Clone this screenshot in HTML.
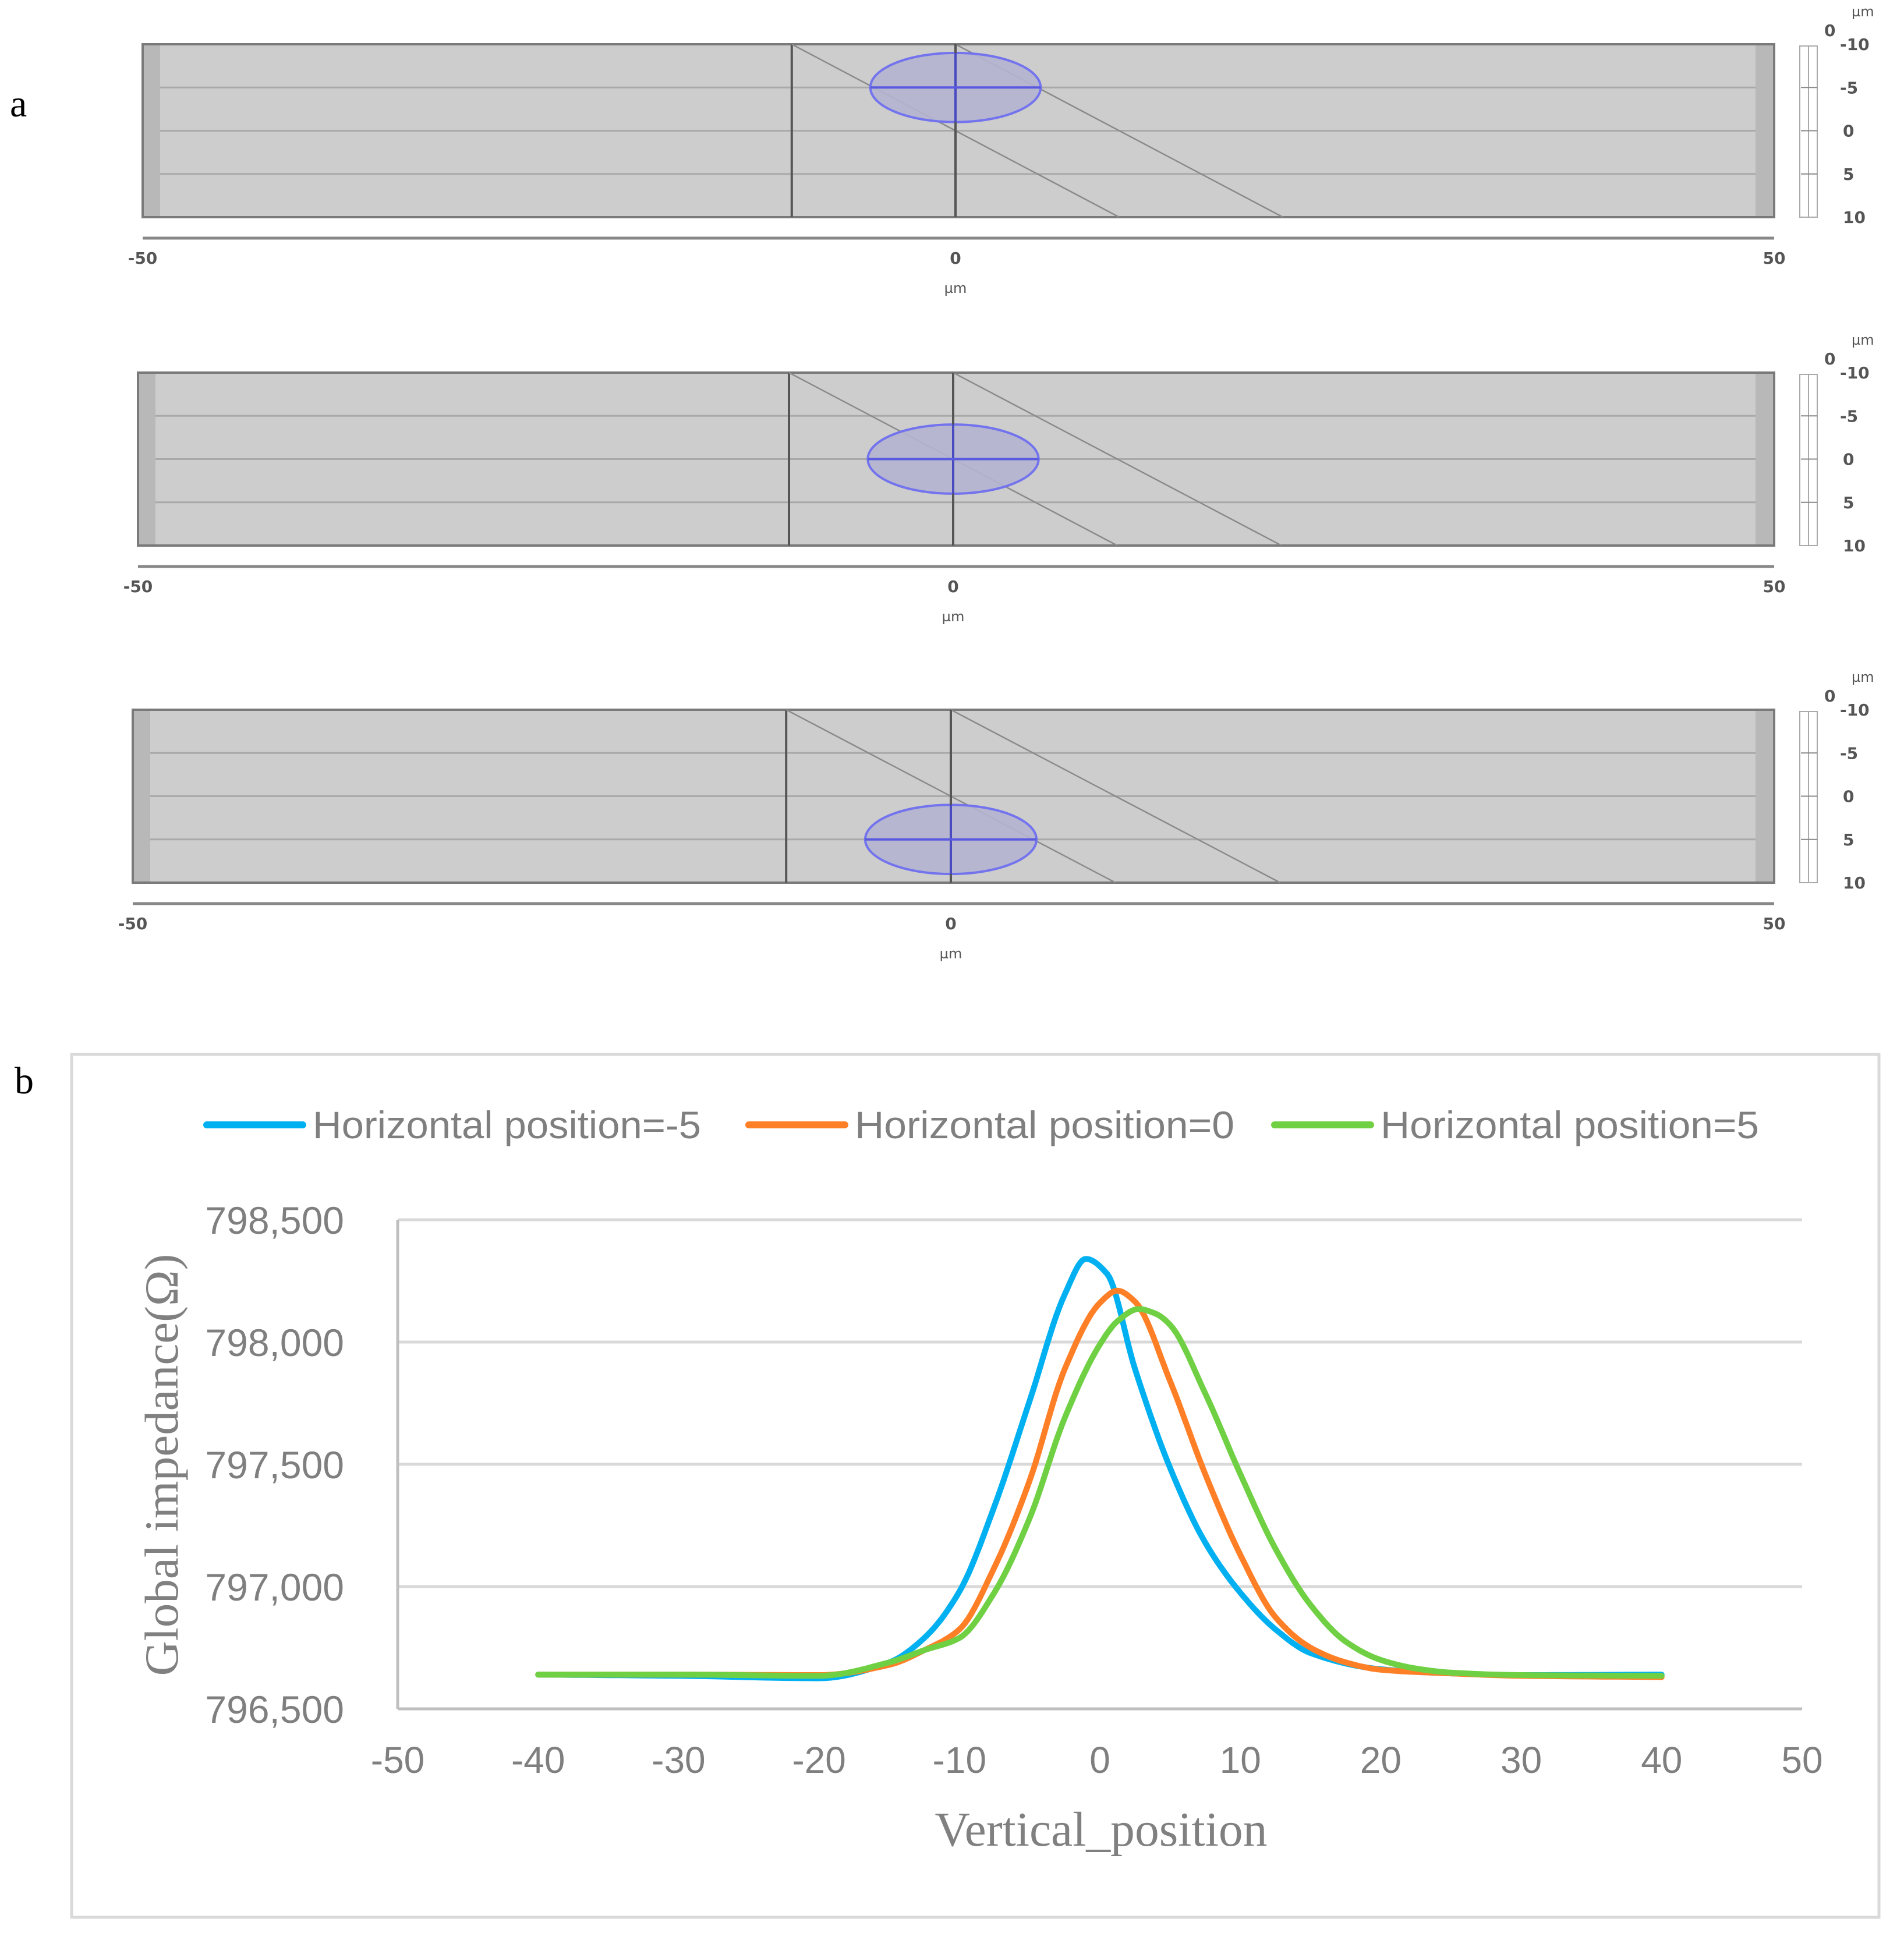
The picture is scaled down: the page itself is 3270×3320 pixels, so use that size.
<!DOCTYPE html>
<html><head><meta charset="utf-8"><style>
html,body{margin:0;padding:0;background:#fff;}
svg{display:block;}
</style></head><body>
<svg id="root" xmlns="http://www.w3.org/2000/svg" width="3270" height="3320" viewBox="0 0 3270 3320">
<rect x="0" y="0" width="3270" height="3320" fill="#fff"/>
<text x="17" y="200" font-family="Liberation Serif, serif" font-size="66" fill="#000">a</text>
<text x="25" y="1878" font-family="Liberation Serif, serif" font-size="66" fill="#000">b</text>
<g id="panels"></g>
<rect x="123" y="1811" width="3104" height="1482" fill="none" stroke="#d9d9d9" stroke-width="5"/>
<g id="chart"></g>
</svg>
<script>
const NS='http://www.w3.org/2000/svg';
function mk(tag,attrs,parent,txt){const e=document.createElementNS(NS,tag);for(const k in attrs)e.setAttribute(k,attrs[k]);if(txt!==undefined)e.textContent=txt;parent.appendChild(e);return e;}

// ---------- Panel a geometry ----------
const panelTops=[76,640,1219];
const panelLefts=[245,237,228];
const panelZero=[1641,1637,1633];
const particleY=[-5,0,5];
const pg=document.getElementById('panels');
for(let i=0;i<3;i++){
  const T=panelTops[i],B=T+297,L=panelLefts[i],R=3047,x0=panelZero[i];
  const sx=(R-x0)/50, sy=(B-T)/20;
  const X=u=>x0+u*sx, Y=v=>T+(v+10)*sy;
  const g=mk('g',{},pg);
  
  
  const r=mk('rect',{x:L,y:T,width:R-L,height:B-T,fill:'#cdcdcd',stroke:'#7a7a7a','stroke-width':4},g);
  
  
  mk('rect',{x:L+2,y:T+2,width:28,height:B-T-4,fill:'#b8b8b8'},g);
  mk('rect',{x:R-32,y:T+2,width:30,height:B-T-4,fill:'#b8b8b8'},g);
  [-5,0,5].forEach(v=>mk('line',{x1:L+30,x2:R-32,y1:Y(v),y2:Y(v),stroke:'#a9a9a9','stroke-width':3},g));
  mk('line',{x1:X(-10),x2:X(-10),y1:T,y2:B,stroke:'#555','stroke-width':4},g);
  mk('line',{x1:X(-10),y1:T,x2:X(10),y2:B,stroke:'#8a8a8a','stroke-width':2.5},g);
  mk('line',{x1:X(0),y1:T,x2:X(20),y2:B,stroke:'#8a8a8a','stroke-width':2.5},g);
  const cy=Y(particleY[i]);
  const el=mk('ellipse',{cx:X(0),cy:cy,rx:5.2*sx,ry:4*sy,fill:'#b4b4d2',stroke:'#7373ee','stroke-width':4,'fill-opacity':0.9},g);
  
  
  mk('line',{x1:X(0),x2:X(0),y1:T,y2:B,stroke:'#555','stroke-width':4},g);
  mk('line',{x1:X(0),x2:X(0),y1:cy-4*sy,y2:cy+4*sy,stroke:'#4a4ac0','stroke-width':4},g);
  mk('line',{x1:X(-5.2),x2:X(5.2),y1:cy,y2:cy,stroke:'#5a5ae0','stroke-width':4},g);
  mk('line',{x1:L,x2:R,y1:B+36,y2:B+36,stroke:'#888','stroke-width':5},g);
  [[-50,L],[0,X(0)],[50,R]].forEach(([t,x])=>{
    const tx=mk('text',{x:x,y:B+80,'text-anchor':'middle','font-family':'DejaVu Sans, sans-serif','font-size':28,'font-weight':'bold',fill:'#555'},g,String(t));
    
    
  });
  const um=mk('text',{x:X(0),y:B+130,'text-anchor':'middle','font-family':'DejaVu Sans, sans-serif','font-size':24,fill:'#555'},g,'µm');
  
  
  mk('rect',{x:3091,y:T+3,width:30,height:B-T-3,fill:'#fff',stroke:'#aaa','stroke-width':2},g);
  mk('line',{x1:3106,x2:3106,y1:T+3,y2:B,stroke:'#aaa','stroke-width':2},g);
  [-10,-5,0,5,10].forEach(v=>{
    if(v>-10&&v<10)mk('line',{x1:3093,x2:3121,y1:Y(v),y2:Y(v),stroke:'#888','stroke-width':2},g);
    const t=mk('text',{x:v<0?3160:3165,y:Y(v)+10,'font-family':'DejaVu Sans, sans-serif','font-size':28,'font-weight':'bold',fill:'#555'},g,String(v));
    
    
  });
  mk('text',{x:3133,y:T-14,'font-family':'DejaVu Sans, sans-serif','font-size':28,'font-weight':'bold',fill:'#555'},g,'0');
  mk('text',{x:3180,y:T-48,'font-family':'DejaVu Sans, sans-serif','font-size':24,fill:'#555'},g,'µm');
}

// ---------- Chart b data ----------
const xTicks=[-50,-40,-30,-20,-10,0,10,20,30,40,50];
const yTicks=[796500,797000,797500,798000,798500];
const seriesNames=['Horizontal position=-5','Horizontal position=0','Horizontal position=5'];
const xsBlue=[-40,-30,-20,-15,-12.5,-10,-7.5,-5,-2.5,-1,0.5,2.5,5,7.5,10,12.5,15,20,25,30,40];
const ysBlue=[796640,796635,796625,796690,796790,796980,797330,797760,798195,798340,798280,797890,797485,797180,796975,796825,796728,796662,796645,796638,796640];
const xsOrange=[-40,-30,-20,-15,-12.5,-10,-7.5,-5,-2.5,0,1.25,2.5,5,7.5,10,12.5,15,17.5,20,25,30,40];
const ysOrange=[796640,796640,796638,796680,796740,796825,797080,797434,797890,798160,798210,798165,797840,797460,797130,796875,796750,796690,796660,796645,796635,796630];
const xsGreen=[-40,-30,-20,-15,-12.5,-10,-7.5,-5,-2.5,0,1.25,2.75,4,5,7.5,10,12.5,15,17.5,20,22.5,25,30,40];
const ysGreen=[796640,796640,796635,796690,796740,796790,796977,797280,797690,797990,798085,798135,798115,798070,797790,797460,797155,796925,796775,796700,796665,796648,796638,796635];
const colors=['#00b0f0','#ff7f27','#70d044'];

const cg=document.getElementById('chart');
const PL=683,PR=3095,PT=2095,PB=2935;
const sxC=v=>PL+(v-xTicks[0])/(xTicks[xTicks.length-1]-xTicks[0])*(PR-PL);
const syC=v=>PB-(v-yTicks[0])/(yTicks[yTicks.length-1]-yTicks[0])*(PB-PT);

yTicks.forEach(v=>{
  const ln=mk('line',{x1:PL,x2:PR,y1:syC(v),y2:syC(v),stroke:v===yTicks[0]?'#bfbfbf':'#d9d9d9','stroke-width':5},cg);
  
  
  const t=mk('text',{x:591,y:syC(v)+24,'text-anchor':'end','font-family':'Liberation Sans, sans-serif','font-size':66,fill:'#7f7f7f'},cg,v.toLocaleString('en-US'));
  
  
});
const yax=mk('line',{x1:PL,x2:PL,y1:PT,y2:PB,stroke:'#bfbfbf','stroke-width':5},cg);


xTicks.forEach(v=>{
  const t=mk('text',{x:sxC(v),y:3045,'text-anchor':'middle','font-family':'Liberation Sans, sans-serif','font-size':64,fill:'#7f7f7f'},cg,String(v));
  
  
});
const yt=mk('text',{x:0,y:0,'text-anchor':'middle','font-family':'Liberation Serif, serif','font-size':82,fill:'#808080',transform:'translate(305,2516) rotate(-90)',textLength:725,lengthAdjust:'spacingAndGlyphs'},cg,'Global impedance(Ω)');


const xt=mk('text',{x:1891,y:3170,'text-anchor':'middle','font-family':'Liberation Serif, serif','font-size':84,fill:'#808080',textLength:571,lengthAdjust:'spacingAndGlyphs'},cg,'Vertical_position');



// monotone cubic (Fritsch-Carlson) interpolation, sampled densely
function pathFor(xs,ys){
  const n=xs.length,d=[],m=new Array(n);
  for(let i=0;i<n-1;i++)d.push((ys[i+1]-ys[i])/(xs[i+1]-xs[i]));
  m[0]=d[0];m[n-1]=d[n-2];
  for(let i=1;i<n-1;i++){
    if(d[i-1]*d[i]<=0)m[i]=0;
    else{const h0=xs[i]-xs[i-1],h1=xs[i+1]-xs[i];const w1=2*h1+h0,w2=h1+2*h0;m[i]=(w1+w2)/(w1/d[i-1]+w2/d[i]);}
  }
  let s='M'+sxC(xs[0])+','+syC(ys[0]);
  for(let i=0;i<n-1;i++){
    const h=xs[i+1]-xs[i];
    for(let k=1;k<=12;k++){
      const t=k/12,t2=t*t,t3=t2*t;
      const v=(2*t3-3*t2+1)*ys[i]+(t3-2*t2+t)*h*m[i]+(-2*t3+3*t2)*ys[i+1]+(t3-t2)*h*m[i+1];
      s+=' L'+sxC(xs[i]+t*h).toFixed(1)+','+syC(v).toFixed(1);
    }
  }
  return s;
}
const allX=[xsBlue,xsOrange,xsGreen],allY=[ysBlue,ysOrange,ysGreen];
const seriesKeys=['series-h-minus5','series-h-0','series-h-5'];
for(let s=0;s<3;s++){
  const pth=mk('path',{d:pathFor(allX[s],allY[s]),fill:'none',stroke:colors[s],'stroke-width':10,'stroke-linejoin':'round','stroke-linecap':'round'},cg);
  
  
}
const legX=[355,1286,2189];
for(let s=0;s<3;s++){
  const lg=mk('g',{},cg);
  
  
  mk('line',{x1:legX[s],x2:legX[s]+165,y1:1932,y2:1932,stroke:colors[s],'stroke-width':12,'stroke-linecap':'round'},lg);
  mk('text',{x:legX[s]+182,y:1955,'font-family':'Liberation Sans, sans-serif','font-size':66,fill:'#7f7f7f',textLength:s===0?667:(s===1?652:650),lengthAdjust:'spacingAndGlyphs'},lg,seriesNames[s]);
}
</script>
</body></html>
